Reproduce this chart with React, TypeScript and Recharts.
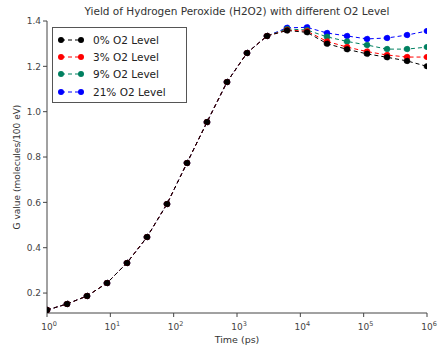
import { Line, LineChart, XAxis, YAxis } from 'recharts'

// time points (ps), log-spaced from 1 to 1e6
const times = [
  1, 2.069, 4.281, 8.859, 18.33, 37.93, 78.48, 162.4, 336.0, 695.2, 1438, 2976,
  6158, 12743, 26367, 54556, 112884, 233572, 483293, 1000000,
]

const level0 = [
  0.125, 0.152, 0.187, 0.244, 0.333, 0.447, 0.593, 0.774, 0.954, 1.131, 1.259,
  1.334, 1.358, 1.35, 1.3, 1.275, 1.255, 1.24, 1.224, 1.2,
]
const level3 = [
  0.125, 0.152, 0.187, 0.244, 0.333, 0.447, 0.593, 0.774, 0.954, 1.131, 1.259,
  1.334, 1.36, 1.355, 1.31, 1.285, 1.265, 1.25, 1.241, 1.241,
]
const level9 = [
  0.125, 0.152, 0.187, 0.244, 0.333, 0.447, 0.593, 0.774, 0.954, 1.131, 1.259,
  1.334, 1.365, 1.36, 1.33, 1.31, 1.294, 1.276, 1.276, 1.285,
]
const level21 = [
  0.125, 0.152, 0.187, 0.244, 0.333, 0.447, 0.593, 0.774, 0.954, 1.131, 1.259,
  1.334, 1.37, 1.372, 1.347, 1.334, 1.321, 1.325, 1.338, 1.356,
]

const xTicks = [1, 10, 100, 1000, 10000, 100000, 1000000]
const yTicks = [0.2, 0.4, 0.6, 0.8, 1.0, 1.2, 1.4]

const seriesInfo = [
  { key: 'o0', name: '0% O2 Level', color: '#000000' },
  { key: 'o3', name: '3% O2 Level', color: '#ff0000' },
  { key: 'o9', name: '9% O2 Level', color: '#008060' },
  { key: 'o21', name: '21% O2 Level', color: '#0000ff' },
]

const data = times.map((t, i) => ({
  t,
  o0: level0[i],
  o3: level3[i],
  o9: level9[i],
  o21: level21[i],
}))

const font = '"DejaVu Sans", sans-serif'

function PowerTick({ x, y, payload }: any) {
  const exp = Math.round(Math.log10(payload.value))
  return (
    <text x={x + 2} y={y + 11} textAnchor="middle" fontSize={9} fill="#444" fontFamily={font}>
      10
      <tspan dy={-4} fontSize={6.5}>
        {exp}
      </tspan>
    </text>
  )
}

function LegendBox() {
  return (
    <div
      style={{
        position: 'absolute',
        left: 52,
        top: 27,
        border: '1px solid #555',
        width: 135,
        height: 76,
        background: '#fff',
        boxSizing: 'border-box',
        paddingTop: 3,
      }}
    >
      {seriesInfo.map((s) => (
        <div key={s.key} style={{ display: 'flex', alignItems: 'center', height: 17.3 }}>
          <svg width={40} height={10} style={{ flex: 'none' }}>
            <line x1={8} x2={28} y1={5} y2={5} stroke={s.color} strokeDasharray="4 3" />
            <circle cx={8} cy={5} r={3} fill={s.color} />
            <circle cx={28} cy={5} r={3} fill={s.color} />
          </svg>
          <span style={{ fontFamily: font, fontSize: 10.5, color: '#222' }}>{s.name}</span>
        </div>
      ))}
    </div>
  )
}

export default function App() {
  // draw 21% first so the 0% series ends up on top where they overlap
  const drawOrder = [...seriesInfo].reverse()
  return (
    <div style={{ position: 'absolute', left: 0, top: 0, width: 438, height: 350, background: '#fff' }}>
      <LineChart
        width={438}
        height={350}
        data={data}
        margin={{ top: 21, right: 11, bottom: 17, left: 0 }}
        style={{ position: 'absolute', left: 0, top: 0 }}
      >
        <XAxis
          dataKey="t"
          type="number"
          scale="log"
          domain={[1, 1000000]}
          ticks={xTicks}
          interval={0}
          tick={<PowerTick />}
          stroke="#444"
          tickSize={4}
          height={20}
          allowDataOverflow
        />
        <XAxis xAxisId="top" orientation="top" type="number" domain={[0, 1]} tick={false} stroke="#444" height={0} />
        <YAxis
          type="number"
          domain={[0.112, 1.4]}
          ticks={yTicks}
          interval={0}
          tickFormatter={(v) => v.toFixed(1)}
          tick={{ fontSize: 9, fill: '#444', fontFamily: font }}
          stroke="#444"
          tickSize={4}
          width={47}
          allowDataOverflow
        />
        <YAxis yAxisId="right" orientation="right" tick={false} stroke="#444" width={0} />
        {drawOrder.map((s) => (
          <Line
            key={s.key}
            dataKey={s.key}
            name={s.name}
            stroke={s.color}
            strokeWidth={1}
            strokeDasharray="4 3"
            dot={{ r: 3, fill: s.color, stroke: s.color, strokeWidth: 0.5 }}
            isAnimationActive={false}
            type="linear"
          />
        ))}
      </LineChart>
      <LegendBox />
      <div
        style={{
          position: 'absolute',
          left: 47,
          width: 380,
          top: 5,
          textAlign: 'center',
          fontFamily: font,
          fontSize: 10.5,
          color: '#333',
        }}
      >
        Yield of Hydrogen Peroxide (H2O2) with different O2 Level
      </div>
      <div
        style={{
          position: 'absolute',
          left: 47,
          width: 380,
          top: 334,
          textAlign: 'center',
          fontFamily: font,
          fontSize: 9.5,
          color: '#333',
        }}
      >
        Time (ps)
      </div>
      <div
        style={{
          position: 'absolute',
          left: 17,
          top: 167,
          transform: 'translate(-50%, -50%) rotate(-90deg)',
          whiteSpace: 'nowrap',
          fontFamily: font,
          fontSize: 9,
          color: '#333',
        }}
      >
        G value (molecules/100 eV)
      </div>
    </div>
  )
}
